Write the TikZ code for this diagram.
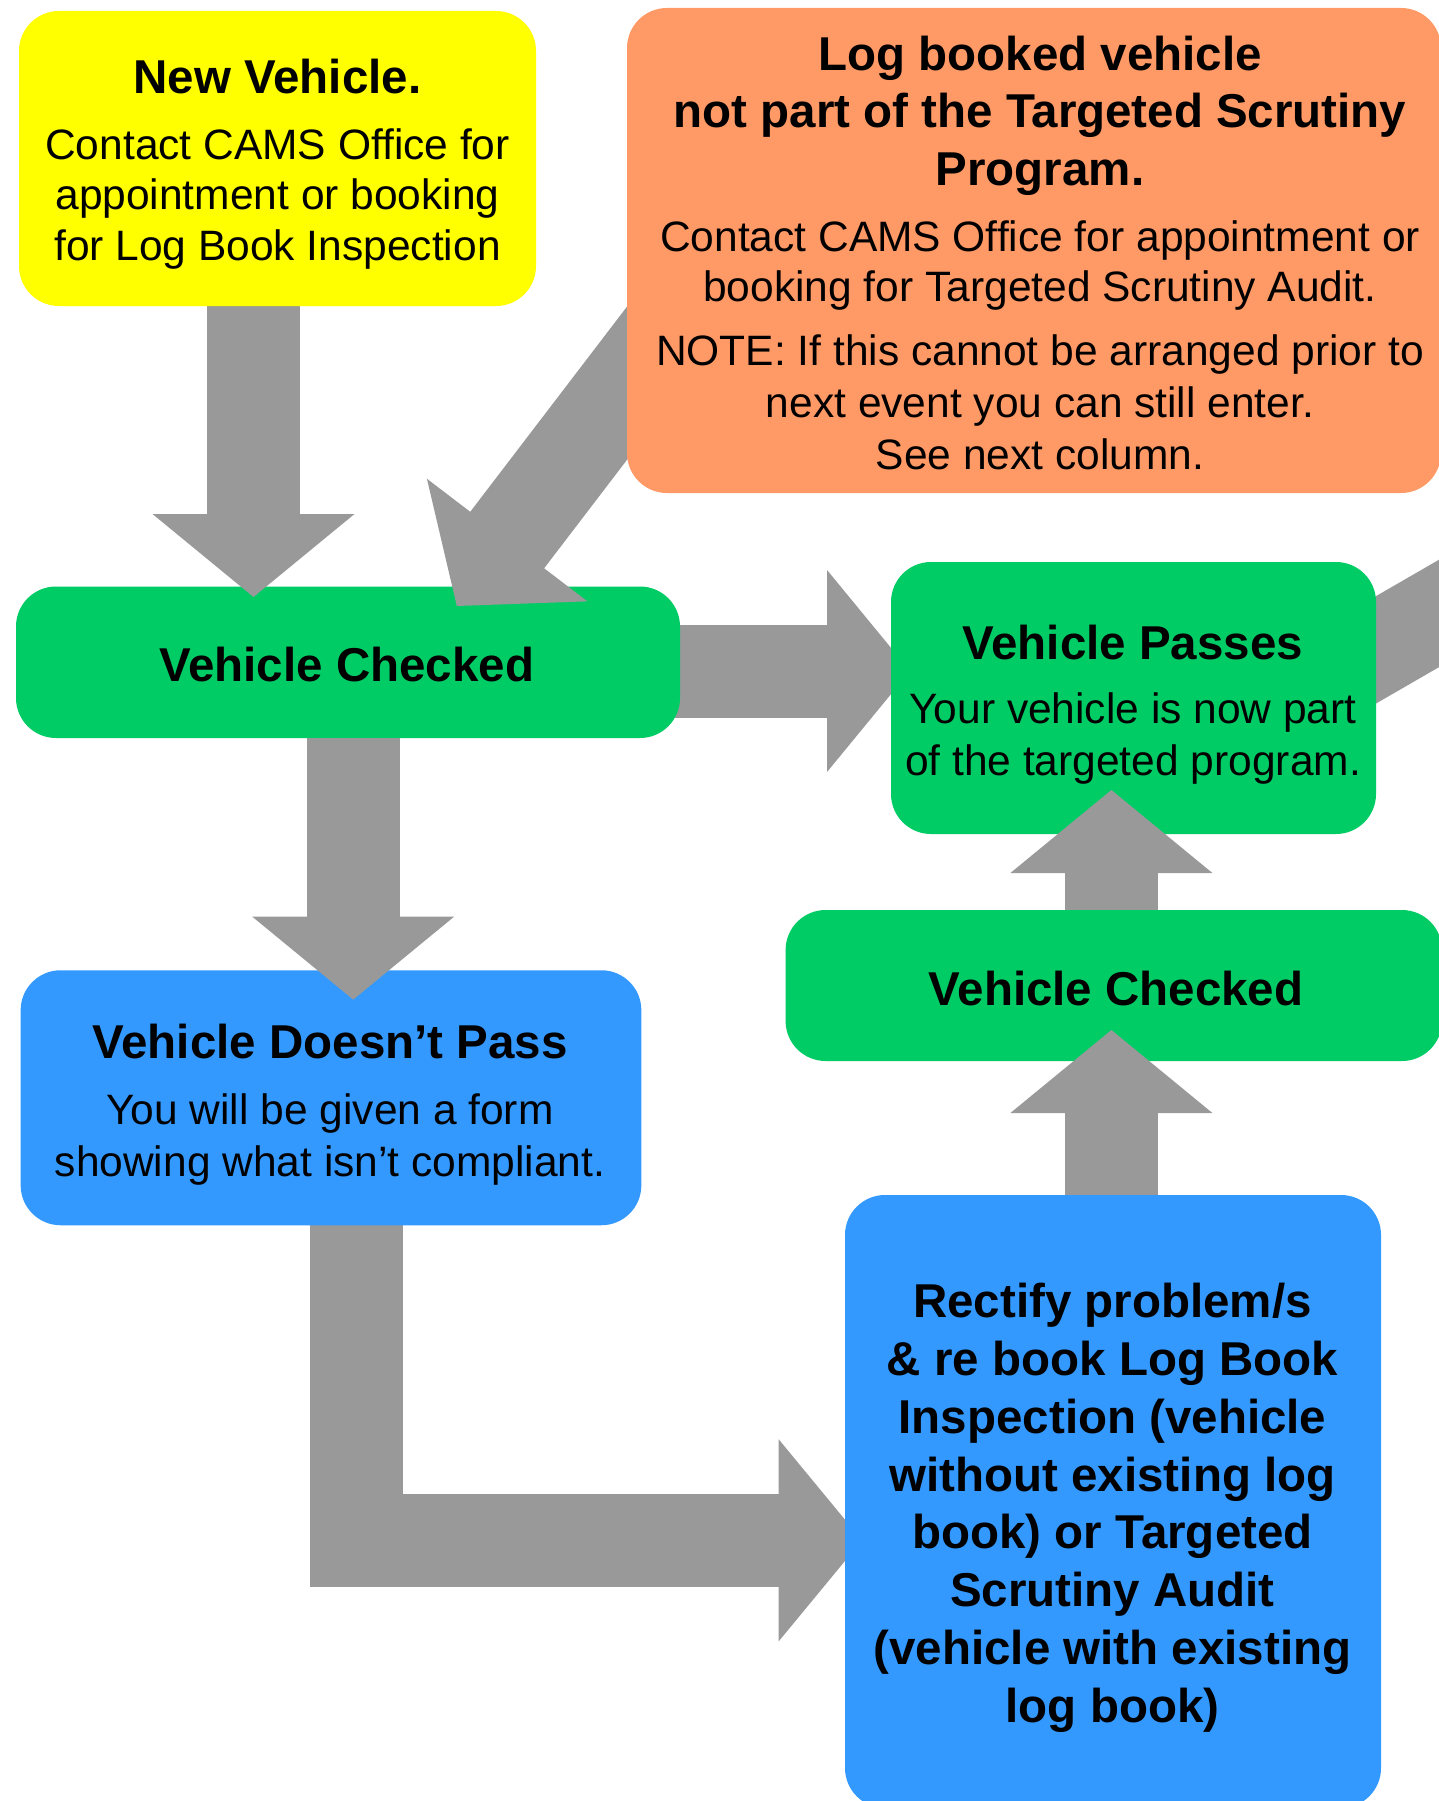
\documentclass[tikz,border=0pt]{standalone}
\usepackage{fontspec}
\setmainfont{Liberation Sans}
\usetikzlibrary{calc}
\definecolor{ylw}{HTML}{FFFF00}
\definecolor{org}{HTML}{FF9966}
\definecolor{grn}{HTML}{00CC66}
\definecolor{blu}{HTML}{3399FF}
\definecolor{arrowgray}{HTML}{999999}
\newcommand\stack[1]{\vtop{\halign{\hfil##\hfil\cr#1\crcr}}}
\newcommand\blockarrow[2]{%
  \coordinate (hb-#2) at ($(#2)!83pt!(#1)$);
  \draw[shaft] (#1) -- ($(hb-#2)!1pt!(#2)$);
  \fill[arrowgray] ($(hb-#2)!101pt!90:(#2)$) -- (#2) -- ($(hb-#2)!101pt!-90:(#2)$) -- cycle;
}
\begin{document}
\begin{tikzpicture}[x=1pt,y=-1pt,
  box/.style={rectangle, rounded corners=40pt, inner sep=0pt, draw=none},
  shaft/.style={draw=arrowgray, line width=93pt},
  ttl/.style={anchor=base, inner sep=0pt, font=\fontsize{47.5}{57.7}\selectfont\bfseries},
  bdy/.style={anchor=base, inner sep=0pt, font=\fontsize{42.5}{51}\selectfont}]
\useasboundingbox (0,0) rectangle (1439,1801);
\fill[white] (0,0) rectangle (1439,1801);
\clip (0,0) rectangle (1439,1801);

% connector end points
\coordinate (a1s) at (253.5,300);
\coordinate (a1t) at (253.5,597);
\coordinate (a2s) at (675.3,320);
\coordinate (a2t) at (456.8,606);
\coordinate (a3s) at (600,671);
\coordinate (a3t) at (910,671);
\coordinate (a4s) at (1300.4,693.5);
\coordinate (a4e) at (1560,543.5);
\coordinate (a5s) at (1111.4,910);
\coordinate (a5t) at (1111.4,790);
\coordinate (a6s) at (1111.4,1195);
\coordinate (a6t) at (1111.4,1030);
\coordinate (a7s) at (356.5,1200);
\coordinate (a7h) at (778.7,1540.3);
\coordinate (a7t) at (862,1540.3);
\coordinate (a8s) at (353.2,738);
\coordinate (a8t) at (353.2,999.6);

% arrows lying under boxes
\blockarrow{a3s}{a3t}
\draw[shaft] (a4s) -- (a4e);
\draw[shaft, line join=miter] (a7s) |- (a7h);
\fill[arrowgray] ($(a7h)+(0,-101)$) -- (a7t) -- ($(a7h)+(0,101)$) -- cycle;

% lower boxes
\node[box, fill=grn, minimum width=664pt, minimum height=151.5pt] (chk1) at (348,662.25) {};
\node[box, fill=grn, minimum width=485pt, minimum height=272pt] (pass) at (1133.5,698) {};
\node[box, fill=grn, minimum width=656.4pt, minimum height=151pt] (chk2) at (1113.8,985.5) {};
\node[box, fill=blu, minimum width=620.7pt, minimum height=255pt] (fail) at (331,1097.75) {};
\node[box, fill=blu, minimum width=536pt, minimum height=613pt] (fix) at (1113,1501.5) {};

% arrows over boxes
\blockarrow{a1s}{a1t}
\blockarrow{a2s}{a2t}
\blockarrow{a5s}{a5t}
\blockarrow{a6s}{a6t}
\blockarrow{a8s}{a8t}

% top boxes
\node[box, fill=ylw, minimum width=517pt, minimum height=295pt] (new) at (277.5,158.5) {};
\node[box, fill=org, minimum width=814pt, minimum height=485pt] (logb) at (1034,250.5) {};

% texts
\node[ttl] (newT) at (277.5,93) {New Vehicle.};
\node[bdy, font=\fontsize{42.5}{50.6}\selectfont] (newB) at (277.5,159)
  {\stack{Contact CAMS Office for\cr appointment or booking\cr for Log Book Inspection}};

\node[ttl] (logT) at (1040,70.3)
  {\stack{Log booked vehicle\cr not part of the Targeted Scrutiny\cr Program.}};
\node[bdy, font=\fontsize{42.5}{50.5}\selectfont] (logB1) at (1040,251)
  {\stack{Contact CAMS Office for appointment or\cr booking for Targeted Scrutiny Audit.}};
\node[bdy, font=\fontsize{42.5}{52}\selectfont] (logB2) at (1040,365)
  {\stack{NOTE: If this cannot be arranged prior to\cr next event you can still enter.\cr See next column.}};

\node[ttl] (chk1T) at (346.7,681) {Vehicle Checked};

\node[ttl] (passT) at (1132.7,659) {Vehicle Passes};
\node[bdy, font=\fontsize{42.5}{51.3}\selectfont] (passB) at (1133,723.7)
  {\stack{Your vehicle is now part\cr of the targeted program.}};

\node[ttl] (failT) at (330,1058.7) {Vehicle Doesn’t Pass};
\node[bdy, font=\fontsize{42.5}{51.7}\selectfont] (failB) at (330,1124.7)
  {\stack{You will be given a form\cr showing what isn’t compliant.}};

\node[ttl] (chk2T) at (1116,1005.6) {Vehicle Checked};

\node[ttl, font=\fontsize{47.5}{57.8}\selectfont\bfseries] (fixT) at (1112.5,1317.7)
  {\stack{Rectify problem/s\cr \& re book Log Book\cr Inspection (vehicle\cr without existing log\cr book) or Targeted\cr Scrutiny Audit\cr (vehicle with existing\cr log book)}};
\end{tikzpicture}
\end{document}
